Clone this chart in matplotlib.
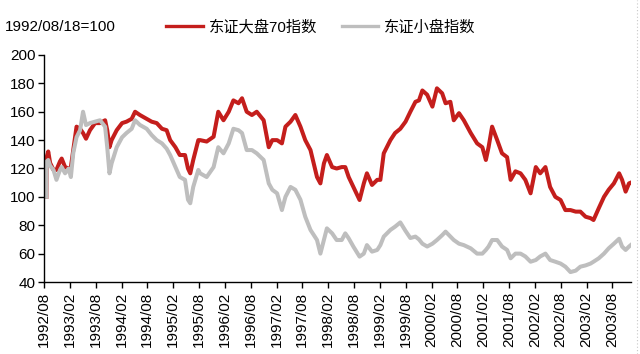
import pandas as pd
import matplotlib
matplotlib.use("Agg")
import matplotlib.pyplot as plt
from matplotlib.lines import Line2D

plt.rcParams['font.family'] = ['Liberation Sans', 'Noto Sans CJK SC', 'DejaVu Sans']

# readings taken off the reference chart (1992/08/18 = 100)
dates = [
    "1992-08-18", "1992-08-20", "1992-08-31", "1992-09-13", "1992-10-07", "1992-10-28",
    "1992-11-22", "1992-12-04", "1992-12-28", "1993-01-22", "1993-02-07", "1993-02-24",
    "1993-03-19", "1993-04-13", "1993-05-04", "1993-05-25", "1993-06-22", "1993-07-28",
    "1993-09-01", "1993-10-07", "1993-10-22", "1993-11-07", "1993-11-22", "1993-12-28",
    "1994-02-04", "1994-03-07", "1994-04-13", "1994-05-07", "1994-06-10", "1994-07-28",
    "1994-09-01", "1994-10-07", "1994-11-13", "1994-12-16", "1995-01-10", "1995-02-16",
    "1995-03-19", "1995-04-25", "1995-05-16", "1995-06-01", "1995-06-22", "1995-07-28",
    "1995-08-10", "1995-09-25", "1995-11-13", "1995-12-16", "1996-01-22", "1996-02-28",
    "1996-04-01", "1996-05-07", "1996-06-01", "1996-07-04", "1996-08-10", "1996-09-13",
    "1996-11-01", "1996-12-07", "1997-01-01", "1997-02-04", "1997-03-10", "1997-04-04",
    "1997-05-10", "1997-06-13", "1997-07-19", "1997-08-22", "1997-09-28", "1997-11-13",
    "1997-12-07", "1998-01-01", "1998-01-22", "1998-02-28", "1998-04-01", "1998-05-07",
    "1998-06-01", "1998-06-25", "1998-07-28", "1998-09-10", "1998-10-10", "1998-11-01",
    "1998-12-07", "1999-01-13", "1999-02-04", "1999-02-28", "1999-04-16", "1999-05-19",
    "1999-06-25", "1999-08-01", "1999-09-04", "1999-10-10", "1999-11-04", "1999-11-28",
    "2000-01-01", "2000-02-07", "2000-03-10", "2000-04-16", "2000-05-10", "2000-06-13",
    "2000-07-07", "2000-08-13", "2000-09-16", "2000-11-04", "2000-12-19", "2001-01-25",
    "2001-02-19", "2001-03-10", "2001-04-04", "2001-05-10", "2001-06-13", "2001-07-19",
    "2001-08-13", "2001-09-16", "2001-10-22", "2001-11-25", "2002-01-01", "2002-02-07",
    "2002-03-10", "2002-04-16", "2002-05-19", "2002-06-25", "2002-08-01", "2002-09-04",
    "2002-10-10", "2002-11-16", "2002-12-19", "2003-01-25", "2003-03-01", "2003-03-22",
    "2003-04-28", "2003-06-04", "2003-07-07", "2003-08-13", "2003-09-19", "2003-10-10",
    "2003-11-04", "2003-11-28", "2003-12-10",
]
big70 = [
    100, 128, 132, 124, 119, 119, 125, 127, 121, 120, 121, 133,
    149.5, 148, 145, 141, 147, 152, 152, 154, 147, 135, 140, 147,
    152, 153, 155, 160, 157.7, 155, 153, 152, 148, 147, 140, 135,
    129.5, 129.5, 120, 116.6, 126, 140, 140, 139, 142.4, 160, 154, 160,
    168, 166, 169.5, 160, 157.7, 160, 154, 135, 140, 140, 137.7, 149.5,
    153, 157.7, 149.5, 140, 133, 114, 109.5, 123.6, 129.5, 121, 120, 121,
    121, 114, 107, 97.8, 109.5, 116.6, 108.4, 112, 112, 130.7, 140, 145,
    148, 153, 160, 167, 168, 175, 172, 163.6, 176.5, 173, 166, 167,
    154, 159, 154, 145, 137.7, 135, 126, 135, 149.5, 140, 130.7, 128,
    112, 118, 116.6, 112, 102.5, 121, 116.6, 121, 107, 100, 97.8, 90.7,
    90.7, 89.6, 89.6, 86, 85, 83.7, 92, 100, 105, 109.5, 116.6, 112,
    103.7, 109.5, 110,
]
small = [
    100, 125, 126, 122, 119, 112, 119, 121, 116.6, 120, 114, 131,
    142, 147, 160, 150.6, 152, 153, 154, 149.5, 135, 116.6, 123.6, 135,
    142, 145, 148, 154, 150.7, 148, 143.6, 140, 137.7, 134, 129.5, 121,
    114, 112, 98, 95.5, 107, 119, 116.6, 114, 121, 135, 130.7, 137.7,
    148, 147, 145, 133, 133, 130.7, 126, 109.5, 105, 102.5, 90.7, 100,
    107, 105, 98, 86, 76.7, 69.6, 60, 69.6, 77.8, 74.3, 69.6, 69.6,
    74.3, 70.8, 65, 57.9, 60, 66, 61.4, 62.6, 66, 72, 76.7, 79,
    82, 76, 71, 72, 70, 67, 65, 67, 69.6, 73, 75.5, 72,
    69.6, 67, 66, 63.7, 60, 60, 62.6, 65, 69.6, 69.6, 65, 62.6,
    56.7, 60, 60, 58, 54.3, 55.5, 58, 60, 55.5, 54.3, 53, 50.8,
    47, 48, 50.8, 51.7, 53, 54.3, 56.7, 60, 63.7, 67, 70.5, 65,
    62.6, 65, 66,
]
tick_dates = pd.date_range("1992-08-01", "2003-08-01", freq="6MS")
tick_labels = [d.strftime("%Y/%m") for d in tick_dates]

x = pd.to_datetime(dates)

fig = plt.figure(figsize=(6.4, 3.54), dpi=100)
ax = fig.add_axes([44 / 640, 1 - 282 / 354, 587 / 640, 227 / 354])

ax.plot(x, big70, color="#C41E1C", lw=2.9, label="东证大盘70指数")
ax.plot(x, small, color="#BEBEBE", lw=2.9, label="东证小盘指数")

ax.set_ylim(40, 200)
ax.set_yticks(range(40, 201, 20))
ax.set_xlim(pd.Timestamp("1992-08-01"), pd.Timestamp("2003-12-12"))
ax.set_xticks(tick_dates)
ax.set_xticklabels(tick_labels, rotation=90)
ax.tick_params(axis="both", labelsize=11, length=4, width=1, direction="out", colors="black")
ax.tick_params(axis="y", pad=2)
ax.tick_params(axis="x", pad=3)

for side in ["top", "right"]:
    ax.spines[side].set_visible(False)
for side in ["left", "bottom"]:
    ax.spines[side].set_linewidth(1)
    ax.spines[side].set_color("black")

fig.text(5 / 640, 1 - 27 / 354, "1992/08/18=100", fontsize=11, va="center", ha="left")

handles = [Line2D([], [], color="#C41E1C", lw=2.4), Line2D([], [], color="#BEBEBE", lw=2.4)]
fig.legend(handles, ["东证大盘70指数", "东证小盘指数"], loc="center left",
           bbox_to_anchor=(166 / 640, 1 - 27 / 354), ncol=2, frameon=False,
           borderpad=0, borderaxespad=0, handlelength=2.4, handletextpad=0.4,
           columnspacing=1.6, fontsize=11)

# faint dotted border at the right edge of the picture
fig.add_artist(Line2D([637 / 640, 637 / 640], [0.0, 1.0], color="#C8C8C8", lw=0.8,
                      ls=(0, (1, 2)), transform=fig.transFigure))

fig.savefig("out.png", dpi=100)
